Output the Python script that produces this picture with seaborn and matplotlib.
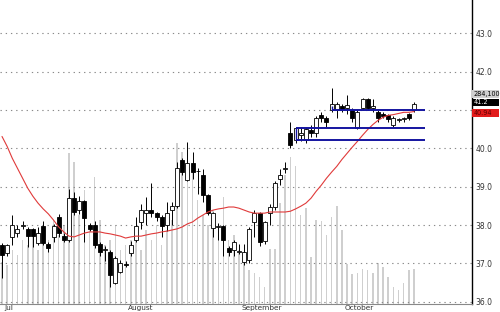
import matplotlib
matplotlib.use("Agg")
import matplotlib.pyplot as plt
import seaborn as sns
import numpy as np
import pandas as pd
from matplotlib.patches import Rectangle
import matplotlib.transforms as mtrans

# ---------------- data ----------------
opens = [37.48, 37.27, 37.69, 37.79, 37.97, 37.90, 37.90, 37.53, 37.97, 37.50,
         37.69, 38.20, 37.71, 37.61, 38.70, 38.39, 38.62, 38.00, 38.00, 37.50,
         37.35, 37.30, 36.49, 36.78, 36.98, 37.27, 37.61, 38.08, 38.31, 38.39,
         38.31, 38.20, 38.00, 38.40, 38.49, 39.69, 39.17, 39.61, 39.40, 39.30,
         38.78, 37.92, 37.95, 37.97, 37.40, 37.35, 37.30, 37.04, 37.09, 38.08,
         38.31, 37.58, 38.31, 38.47, 39.19, 39.47, 40.39, 40.21, 40.35, 40.21,
         40.49, 40.39, 40.88, 40.80, 40.99, 41.00, 41.10, 41.05, 41.01, 40.52,
         41.04, 41.30, 41.04, 40.94, 40.90, 40.87, 40.60, 40.74, 40.76, 40.90,
         40.99]
highs = [37.53, 37.50, 38.26, 38.00, 38.10, 37.95, 37.92, 37.95, 38.10, 37.55,
         38.02, 38.28, 37.79, 38.93, 38.85, 38.75, 38.65, 38.05, 38.10, 37.55,
         37.45, 37.35, 37.20, 37.10, 37.05, 37.58, 38.20, 38.56, 38.73, 39.10,
         38.35, 38.25, 38.60, 38.60, 39.65, 39.75, 40.16, 39.90, 39.50, 39.45,
         38.80, 38.35, 38.05, 38.00, 37.45, 37.60, 37.50, 37.50, 37.95, 38.40,
         38.33, 38.10, 38.55, 39.15, 39.45, 39.65, 40.68, 40.55, 40.55, 40.55,
         40.60, 40.85, 40.95, 40.85, 41.58, 41.20, 41.15, 41.40, 41.05, 41.00,
         41.32, 41.32, 41.30, 41.00, 40.95, 40.90, 40.85, 40.80, 40.82, 40.92,
         41.20]
lows = [36.62, 37.20, 37.48, 37.70, 37.90, 37.43, 37.43, 37.48, 37.48, 37.30,
        37.55, 37.69, 37.55, 37.55, 38.26, 38.30, 37.56, 37.85, 37.40, 37.20,
        37.05, 36.38, 36.45, 36.75, 36.90, 37.18, 37.55, 37.90, 38.00, 38.20,
        38.10, 37.70, 37.85, 38.00, 38.45, 39.30, 39.15, 39.20, 38.80, 38.60,
        38.25, 37.70, 37.60, 37.20, 37.20, 37.20, 37.25, 36.96, 37.00, 37.70,
        37.45, 37.50, 38.00, 38.40, 39.05, 39.35, 40.00, 40.15, 40.20, 40.15,
        40.30, 40.30, 40.70, 40.55, 40.95, 40.80, 40.95, 40.90, 40.70, 40.50,
        41.00, 41.00, 40.95, 40.70, 40.80, 40.70, 40.55, 40.70, 40.70, 40.75,
        40.95]
closes = [37.22, 37.48, 38.00, 37.90, 38.00, 37.71, 37.71, 37.79, 37.53, 37.40,
          37.97, 37.79, 37.61, 38.70, 38.34, 38.62, 38.18, 37.90, 37.48, 37.30,
          37.38, 36.70, 37.14, 37.00, 36.97, 37.47, 37.97, 38.39, 38.39, 38.31,
          38.20, 37.97, 38.31, 38.50, 39.48, 39.38, 39.61, 39.38, 39.42, 38.78,
          38.31, 38.31, 37.97, 37.61, 37.30, 37.56, 37.32, 37.30, 37.90, 38.31,
          37.56, 38.08, 38.47, 39.09, 39.30, 39.49, 40.08, 40.52, 40.40, 40.50,
          40.39, 40.78, 40.80, 40.70, 41.17, 41.15, 41.00, 41.12, 40.78, 40.94,
          41.30, 41.06, 41.10, 40.80, 40.85, 40.77, 40.80, 40.76, 40.78, 40.80,
          41.17]
volume_k = [342, 317, 441, 399, 523, 482, 564, 441, 605, 523,
            688, 564, 646, 1239, 1165, 729, 935, 605, 1042, 688,
            482, 523, 646, 441, 482, 523, 564, 441, 605, 523,
            646, 482, 605, 688, 1322, 1248, 1058, 1157, 852, 729,
            646, 770, 605, 877, 523, 564, 441, 358, 276, 259,
            226, 136, 449, 449, 828, 1058, 1206, 1132, 729, 786,
            383, 688, 679, 564, 712, 803, 605, 325, 243, 259,
            284, 276, 259, 334, 301, 226, 136, 119, 169, 276,
            284.1]
moving_avg = [40.31, 40.05, 39.74, 39.48, 39.22, 38.96, 38.75, 38.57, 38.42, 38.29,
              38.13, 37.95, 37.82, 37.71, 37.69, 37.74, 37.79, 37.82, 37.82, 37.82,
              37.79, 37.77, 37.74, 37.71, 37.66, 37.69, 37.71, 37.71, 37.74, 37.77,
              37.79, 37.82, 37.84, 37.87, 37.90, 37.95, 38.03, 38.08, 38.18, 38.26,
              38.34, 38.39, 38.42, 38.44, 38.47, 38.47, 38.44, 38.39, 38.34, 38.31,
              38.31, 38.31, 38.34, 38.34, 38.34, 38.34, 38.36, 38.42, 38.49, 38.57,
              38.70, 38.88, 39.04, 39.22, 39.38, 39.53, 39.71, 39.87, 40.03, 40.18,
              40.34, 40.49, 40.62, 40.73, 40.81, 40.86, 40.88, 40.91, 40.94, 40.94,
              40.96]
month_ticks = [0, 24, 46, 66]
month_labels = ["Jul", "August", "September", "October"]
# support / resistance levels: (level, start index, end index)
levels = [41.01, 40.52, 40.21]
level_start = [64.1, 57.1, 57.1]
level_end = [82.1, 82.1, 82.1]
y_ticks = [36, 37, 38, 39, 40, 41, 42, 43]
y_labels = ["36.0", "37.0", "38.0", "39.0", "40.0", "", "42.0", "43.0"]
badge_texts = ["284,100", "41.2", "40.94"]
badge_levels = [41.42, 41.20, 40.92]

# ---------------- style ----------------
sns.set_style("white")
plt.rcParams['font.family'] = ['DejaVu Sans']

df = pd.DataFrame({"idx": np.arange(len(closes)), "open": opens, "high": highs,
                   "low": lows, "close": closes, "vol": volume_k, "ma": moving_avg})

fig = plt.figure(figsize=(5.0, 3.12), dpi=100)
pos = [0.0, 8 / 312, 472 / 500, 304 / 312]
axv = fig.add_axes(pos)
ax = fig.add_axes(pos, sharex=axv)
ax.patch.set_alpha(0)
axv.set_facecolor("white")

xlim = (-0.39, 91.26)

# volume bars
axv.bar(df["idx"], df["vol"], width=0.3, color="#cfcfcf", linewidth=0)
axv.set_ylim(0, 2500)
axv.set_xlim(*xlim)
axv.axis("off")

# grid
ax.set_ylim(35.94, 43.87)
ax.set_xlim(*xlim)
ax.set_yticks(y_ticks)
ax.yaxis.grid(True, linestyle=(0, (1.2, 3.5)), color="#8a8a8a", linewidth=0.8)
ax.xaxis.grid(False)
ax.set_axisbelow(True)

# candles
up = df["close"] >= df["open"]
ax.vlines(df["idx"], df["low"], df["high"], color="black", linewidth=0.7, zorder=2)
body_bottom = np.minimum(df["open"], df["close"])
body_h = np.maximum(np.abs(df["close"] - df["open"]), 0.02)
ax.bar(df["idx"][up], body_h[up], bottom=body_bottom[up], width=0.78,
       facecolor="white", edgecolor="black", linewidth=0.6, zorder=3)
ax.bar(df["idx"][~up], body_h[~up], bottom=body_bottom[~up], width=0.78,
       facecolor="black", edgecolor="black", linewidth=0.6, zorder=3)

# moving average
sns.lineplot(data=df, x="idx", y="ma", ax=ax, color="#e03a3a", linewidth=0.8,
             zorder=4, legend=False)

# levels
blue = "#1414a0"
for lv, s, e in zip(levels, level_start, level_end):
    ax.hlines(lv, s, e, color=blue, linewidth=1.4, zorder=5)
ax.vlines(level_start[1], levels[2], levels[1], color=blue, linewidth=1.0, zorder=5)
ax.vlines(level_start[0], levels[0], levels[0] + 0.1, color=blue, linewidth=1.0, zorder=5)

# axes cosmetics
ax.set_xlabel("")
ax.set_ylabel("")
for s in ["top", "left"]:
    ax.spines[s].set_visible(False)
ax.spines["right"].set_color("black")
ax.spines["right"].set_linewidth(1.0)
ax.spines["bottom"].set_color("#888888")
ax.spines["bottom"].set_linewidth(0.8)

ax.yaxis.tick_right()
ax.set_yticklabels(y_labels, fontsize=5.5, color="#333333")
ax.tick_params(axis="y", length=0, pad=2.5)

ax.set_xticks(month_ticks)
ax.set_xticklabels([])
ax.tick_params(axis="x", length=3, width=0.6, color="#555555", direction="out", pad=0)
xtrans = ax.get_xaxis_transform()
for t, lab in zip(month_ticks, month_labels):
    ax.text(t + 0.45, -0.014, lab, transform=xtrans, fontsize=5.3, color="#333333",
            ha="left", va="center", clip_on=False)

# right-side badges
btrans = mtrans.blended_transform_factory(ax.transAxes, ax.transData)
badge_face = ["#cfcfcf", "black", "#e21b1b"]
badge_color = ["black", "white", "#5a0000"]
bw = 27 / 472
bh = 0.19
for txt, lv, fc, tc in zip(badge_texts, badge_levels, badge_face, badge_color):
    ax.add_patch(Rectangle((1.0, lv - bh / 2), bw, bh, transform=btrans,
                           facecolor=fc, edgecolor="none", clip_on=False, zorder=6))
    ax.text(1.0 + 1.5 / 472, lv, txt, transform=btrans, fontsize=4.7, color=tc,
            ha="left", va="center", clip_on=False, zorder=7)

fig.savefig("out.png", dpi=100)
